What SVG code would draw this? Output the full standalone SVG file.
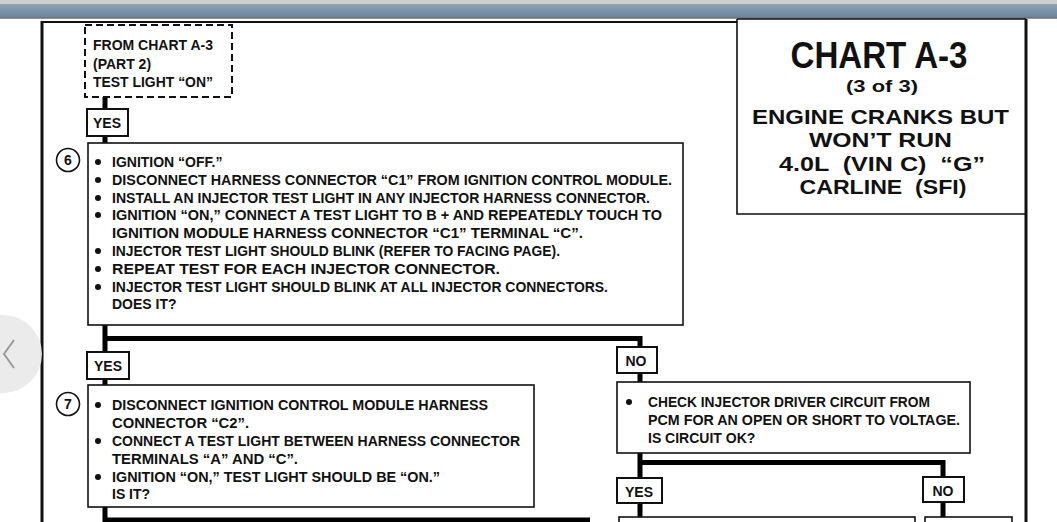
<svg xmlns="http://www.w3.org/2000/svg" width="1057" height="522" viewBox="0 0 1057 522">
<defs>
<linearGradient id="bar" x1="0" y1="0" x2="0" y2="1">
<stop offset="0" stop-color="#8ea3b8"/>
<stop offset="1" stop-color="#6a849e"/>
</linearGradient>
</defs>
<style>
text{font-family:"Liberation Sans",Arial,sans-serif;font-weight:bold;fill:#111;}
.b{font-size:14px;}
.t{font-size:21px;text-anchor:middle;}
.box{fill:#fff;stroke:#111;stroke-width:1.6;}
.lbl{fill:#fff;stroke:#111;stroke-width:2;}
.lt{font-size:14px;text-anchor:middle;}
.dash{fill:none;stroke:#111;stroke-width:2;stroke-dasharray:7 4;}
.con{fill:none;stroke:#000;stroke-width:5;}
.frame{fill:none;stroke:#111;}
.dot{fill:#111;}
</style>
<rect x="0" y="0" width="1057" height="522" fill="#fff"/>
<!-- top window bar -->
<rect x="0" y="0" width="1057" height="4" fill="#cfcfcf"/>
<rect x="0" y="4" width="1057" height="13.5" fill="url(#bar)"/>
<rect x="0" y="17.5" width="1057" height="1" fill="#2a2a2a"/>
<!-- page frame -->
<g id="frame">
<line class="frame" x1="42" y1="21" x2="42" y2="522" stroke-width="3"/>
<line class="frame" x1="42" y1="22" x2="737" y2="22" stroke-width="2"/>
<line class="frame" x1="1026" y1="19" x2="1026" y2="522" stroke-width="3"/>
</g>
<!-- title box -->
<g id="title">
<path class="frame" d="M737 19 H1026 M737 19 V214 H1026" stroke-width="1.6"/>
<text class="t" x="879" y="68" style="font-size:36px" textLength="177" lengthAdjust="spacingAndGlyphs">CHART A-3</text>
<text class="t" x="882" y="92" style="font-size:17px" textLength="72" lengthAdjust="spacingAndGlyphs">(3 of 3)</text>
<text class="t" x="880.5" y="124" textLength="257" lengthAdjust="spacingAndGlyphs">ENGINE CRANKS BUT</text>
<text class="t" x="880.5" y="147" textLength="143" lengthAdjust="spacingAndGlyphs">WON’T RUN</text>
<text class="t" x="882" y="170.5" textLength="206" lengthAdjust="spacingAndGlyphs" xml:space="preserve">4.0L  (VIN C)  “G”</text>
<text class="t" x="883" y="194" textLength="167" lengthAdjust="spacingAndGlyphs" xml:space="preserve">CARLINE  (SFI)</text>
</g>
<!-- connectors -->
<g id="connectors">
<path class="con" d="M105 97 V109 M105 136 V143"/>
<path class="con" d="M105 325 V352 M102.5 338.5 H642.5 M640 336 V347"/>
<path class="con" d="M105 379 V385 M640 373 V382"/>
<path class="con" d="M640 453 V478 M637.5 462.5 H945.5 M943 460 V477"/>
<path class="con" d="M640 503 V517 M943 502 V517"/>
<path class="con" d="M105 507 V520 M102.5 520 H590"/>
</g>
<!-- start box -->
<g id="start">
<rect class="dash" x="85" y="25" width="147" height="72"/>
<text class="b" x="93" y="50" textLength="120" lengthAdjust="spacingAndGlyphs">FROM CHART A-3</text>
<text class="b" x="93" y="69">(PART 2)</text>
<text class="b" x="93" y="87" textLength="120" lengthAdjust="spacingAndGlyphs">TEST LIGHT “ON”</text>
</g>
<g id="yes1">
<rect class="lbl" x="87" y="109" width="41" height="27"/>
<text class="lt" x="107" y="128">YES</text>
</g>
<!-- step 6 -->
<g id="step6">
<circle cx="68" cy="160" r="11.5" fill="#fff" stroke="#111" stroke-width="1.6"/>
<text class="lt" x="68" y="165">6</text>
<rect class="box" x="88" y="143" width="595" height="182"/>
<circle class="dot" cx="98" cy="162" r="3"/>
<circle class="dot" cx="98" cy="180" r="3"/>
<circle class="dot" cx="98" cy="198" r="3"/>
<circle class="dot" cx="98" cy="215" r="3"/>
<circle class="dot" cx="98" cy="251" r="3"/>
<circle class="dot" cx="98" cy="269" r="3"/>
<circle class="dot" cx="98" cy="287" r="3"/>
<text class="b" x="112" y="167">IGNITION “OFF.”</text>
<text class="b" x="112" y="185" textLength="560" lengthAdjust="spacingAndGlyphs">DISCONNECT HARNESS CONNECTOR “C1” FROM IGNITION CONTROL MODULE.</text>
<text class="b" x="112" y="203" textLength="538" lengthAdjust="spacingAndGlyphs">INSTALL AN INJECTOR TEST LIGHT IN ANY INJECTOR HARNESS CONNECTOR.</text>
<text class="b" x="112" y="220" textLength="550" lengthAdjust="spacingAndGlyphs">IGNITION “ON,” CONNECT A TEST LIGHT TO B + AND REPEATEDLY TOUCH TO</text>
<text class="b" x="112" y="238" textLength="471" lengthAdjust="spacingAndGlyphs">IGNITION MODULE HARNESS CONNECTOR “C1” TERMINAL “C”.</text>
<text class="b" x="112" y="256" textLength="448" lengthAdjust="spacingAndGlyphs">INJECTOR TEST LIGHT SHOULD BLINK (REFER TO FACING PAGE).</text>
<text class="b" x="112" y="274" textLength="388" lengthAdjust="spacingAndGlyphs">REPEAT TEST FOR EACH INJECTOR CONNECTOR.</text>
<text class="b" x="112" y="292" textLength="496" lengthAdjust="spacingAndGlyphs">INJECTOR TEST LIGHT SHOULD BLINK AT ALL INJECTOR CONNECTORS.</text>
<text class="b" x="112" y="309">DOES IT?</text>
</g>
<g id="yes2">
<rect class="lbl" x="87" y="352" width="42" height="27"/>
<text class="lt" x="108" y="371">YES</text>
</g>
<g id="no1">
<rect class="lbl" x="617" y="347" width="40" height="26"/>
<text class="lt" x="636" y="366">NO</text>
</g>
<!-- step 7 -->
<g id="step7">
<circle cx="68" cy="404" r="11.5" fill="#fff" stroke="#111" stroke-width="1.6"/>
<text class="lt" x="68" y="409">7</text>
<rect class="box" x="88" y="385" width="446" height="122"/>
<circle class="dot" cx="98" cy="405" r="3"/>
<circle class="dot" cx="98" cy="441" r="3"/>
<circle class="dot" cx="98" cy="477" r="3"/>
<text class="b" x="112" y="410" textLength="376" lengthAdjust="spacingAndGlyphs">DISCONNECT IGNITION CONTROL MODULE HARNESS</text>
<text class="b" x="112" y="428" textLength="137" lengthAdjust="spacingAndGlyphs">CONNECTOR “C2”.</text>
<text class="b" x="112" y="446" textLength="408" lengthAdjust="spacingAndGlyphs">CONNECT A TEST LIGHT BETWEEN HARNESS CONNECTOR</text>
<text class="b" x="112" y="464" textLength="186" lengthAdjust="spacingAndGlyphs">TERMINALS “A” AND “C”.</text>
<text class="b" x="112" y="482" textLength="328" lengthAdjust="spacingAndGlyphs">IGNITION “ON,” TEST LIGHT SHOULD BE “ON.”</text>
<text class="b" x="112" y="499">IS IT?</text>
</g>
<!-- check injector driver circuit -->
<g id="check">
<rect class="box" x="617" y="382" width="353" height="71"/>
<circle class="dot" cx="629" cy="402" r="3"/>
<text class="b" x="648" y="407" textLength="282" lengthAdjust="spacingAndGlyphs">CHECK INJECTOR DRIVER CIRCUIT FROM</text>
<text class="b" x="648" y="425" textLength="312" lengthAdjust="spacingAndGlyphs">PCM FOR AN OPEN OR SHORT TO VOLTAGE.</text>
<text class="b" x="648" y="443">IS CIRCUIT OK?</text>
</g>
<g id="yes3">
<rect class="lbl" x="617" y="478" width="45" height="25"/>
<text class="lt" x="639" y="497">YES</text>
</g>
<g id="no3">
<rect class="lbl" x="923" y="477" width="41" height="25"/>
<text class="lt" x="943" y="496">NO</text>
</g>
<g id="next-left">
<rect class="box" x="619" y="517" width="296" height="20"/>
</g>
<g id="next-right">
<rect class="box" x="925" y="517" width="87" height="20"/>
</g>
<!-- viewer overlay -->
<g id="nav-overlay">
<circle cx="3" cy="354" r="39" fill="#e9e9e9" fill-opacity="0.92"/>
<path d="M14 340 L4 354 L14 368" fill="none" stroke="#9a9a9a" stroke-width="2"/>
</g>
</svg>
